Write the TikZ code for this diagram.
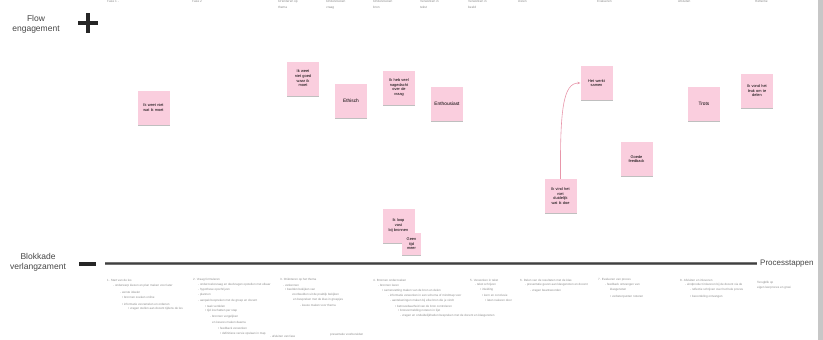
\documentclass[tikz,border=0pt]{standalone}
\usepackage{fontspec}
\setmainfont{Liberation Sans}
\usetikzlibrary{arrows.meta,shadows}
\definecolor{sticky}{RGB}{250,206,222}
\definecolor{txtgray}{RGB}{70,70,70}
\definecolor{lightgray}{RGB}{140,140,140}
\definecolor{arrowpink}{RGB}{232,150,170}
\tikzset{
  note/.style={fill=sticky, draw=none, minimum width=32pt, minimum height=34pt,
    inner sep=1.5pt, text width=29pt, align=center, font=\fontsize{3.9}{4.6}\selectfont,
    text=black, drop shadow={shadow xshift=0pt, shadow yshift=-1.2pt, opacity=0.25, fill=black}},
  bignote/.style={note, font=\fontsize{4.8}{5.6}\selectfont},
  smallnote/.style={note, minimum width=19pt, minimum height=22pt, text width=16pt},
  bt/.style={anchor=west, inner sep=0pt, font=\fontsize{3}{3.5}\selectfont, text=lightgray},
  hd/.style={anchor=west, inner sep=0pt, font=\fontsize{3.2}{3.8}\selectfont, text=lightgray},
  side/.style={align=center, font=\fontsize{8.5}{10}\selectfont, text=txtgray},
  linkarrow/.style={draw=arrowpink, line width=0.6pt, -{Stealth[length=3pt,width=2.5pt]}},
}
\newcommand\bl[3]{\node[bt] at (#1,#2) {#3};}
\newcommand\hl[3]{\node[hd] at (#1,#2) {#3};}
\begin{document}
\begin{tikzpicture}[x=1pt,y=-1pt]
\useasboundingbox (0,0) rectangle (823,340);
\fill[white] (0,0) rectangle (823,340);
\begin{scope}
\clip (0,0) rectangle (823,340);
% right scroll bar
\fill[black!22] (818,0) rectangle (823,340);

% top headers
\hl{107}{1.5}{Fase 1 -}
\hl{192}{1.5}{Fase 2}
\hl{278}{1.5}{Oriënteren op}
\hl{278}{7.5}{thema}
\hl{326}{1.5}{Onderzoeken}
\hl{326}{7.5}{vraag}
\hl{373}{1.5}{Onderzoeken}
\hl{373}{7.5}{bron}
\hl{420}{1.5}{Verwerken in}
\hl{420}{7.5}{tekst}
\hl{468}{1.5}{Verwerken in}
\hl{468}{7.5}{beeld}
\hl{518}{1.5}{Delen}
\hl{597}{1.5}{Evalueren}
\hl{678}{1.5}{Afsluiten}
\hl{755}{1.5}{Reflectie}

% side labels
\node[side] (plusl) at (36,24) {Flow\\engagement};
\node[side] (minl) at (38,262) {Blokkade\\verlangzament};
\draw[line width=3.2pt, black!85] (78,23) -- (98,23);
\draw[line width=3.2pt, black!85] (88,13) -- (88,33);
\draw[line width=3.5pt, black!85] (79,264) -- (96,264);

% axis
\coordinate (axs) at (105,263.5);
\coordinate (axe) at (757,263.5);
\draw[line width=2.8pt, black!55] (axs) -- (axe);
\draw[line width=1.3pt, black!75] (axs) -- (axe);
\node[anchor=west, inner sep=1pt, font=\fontsize{8}{9}\selectfont, text=txtgray] (proc) at (759,263.5) {Processtappen};

% sticky notes
\node[note] (n1) at (153.5,107.5) {Ik weet niet\\wat ik moet};
\node[note] (n2) at (303,78.5) {Ik weet\\niet goed\\waar ik\\moet};
\node[bignote] (n3) at (351,100.5) {Ethisch};
\node[note] (n4) at (399,87.5) {Ik heb veel\\nagedacht\\over de\\vraag};
\node[bignote] (n5) at (447,104) {Enthousiast};
\node[note] (n6) at (596.5,83) {Het werkt\\samen};
\node[note] (n7) at (636.5,159) {Goede\\feedback};
\node[note] (n8) at (560.5,196) {Ik vind het\\niet\\duidelijk\\wat ik doe};
\node[bignote] (n9) at (704,104) {Trots};
\node[note] (n10) at (757,91) {Ik vond het\\leuk om te\\delen};
\node[note] (n11) at (398.5,225.5) {Ik loop\\vast\\bij bronnen};
\node[smallnote] (n12) at (411.5,244) {Geen\\tijd\\meer};

\draw[linkarrow] (n8.north) .. controls (560,110) and (563,83) .. (n6.west);

% bullet lists below axis
\bl{107}{280}{1. Start van de les}
\bl{113}{286}{- onderwerp kiezen en plan maken voor later}
\bl{120}{292}{- eerste ideeën}
\bl{122}{297}{• bronnen zoeken online}
\bl{122}{304}{• informatie verzamelen en ordenen}
\bl{128}{309}{• vragen stellen aan docent tijdens de les}

\bl{193}{280}{2. Vraag formuleren}
\bl{198}{285}{- onderzoeksvraag en deelvragen opstellen met elkaar}
\bl{198}{290}{- hypothese opschrijven}
\bl{198}{295}{- plannen}
\bl{198}{301}{- aanpak bespreken met de groep en docent}
\bl{205}{306}{• taak verdelen}
\bl{205}{311}{• tijd inschatten per stap}
\bl{210}{317}{- bronnen vergelijken}
\bl{212}{322}{en keuzes maken daarna}
\bl{218}{328}{• feedback verwerken}
\bl{220}{334}{• definitieve versie opslaan in map}

\bl{280}{280}{3. Oriënteren op het thema}
\bl{283}{285}{- verkennen}
\bl{285}{290}{• beelden bekijken van}
\bl{292}{295}{voorbeelden uit de praktijk bekijken}
\bl{293}{300}{en bespreken met de klas in groepjes}
\bl{300}{305}{- keuze maken voor thema}
\bl{270}{336}{- afsluiten van fase}
\bl{330}{335}{presentatie voorbereiden}

\bl{373}{280}{4. Bronnen onderzoeken}
\bl{378}{285}{- bronnen lezen}
\bl{382}{291}{• samenvatting maken van de bron en delen}
\bl{388}{296}{- informatie verwerken in een schema of mindmap voor}
\bl{390}{301}{- aantekeningen maken bij elke bron die je vindt}
\bl{395}{306}{• betrouwbaarheid van de bron controleren}
\bl{398}{311}{• bronvermelding noteren in lijst}
\bl{400}{316}{- vragen en onduidelijkheden bespreken met de docent en klasgenoten}

\bl{470}{280}{5. Verwerken in tekst}
\bl{475}{285}{- tekst schrijven}
\bl{480}{290}{• inleiding}
\bl{482}{295}{• kern en conclusie}
\bl{485}{300}{• laten nalezen door}

\bl{520}{280}{6. Delen van de resultaten met de klas}
\bl{525}{285}{- presentatie geven aan klasgenoten en docent}
\bl{530}{291}{- vragen beantwoorden}

\bl{598}{280}{7. Evalueren van proces}
\bl{605}{285}{- feedback ontvangen van}
\bl{610}{290}{klasgenoten}
\bl{610}{297}{• verbeterpunten noteren}

\bl{680}{280}{8. Afsluiten en inleveren}
\bl{685}{285}{- eindproduct inleveren bij de docent via de}
\bl{690}{290}{- reflectie schrijven over het hele proces}
\bl{690}{297}{• beoordeling ontvangen}

\bl{757}{283}{Terugblik op}
\bl{757}{288}{eigen leerproces en groei}
\end{scope}
\end{tikzpicture}
\end{document}
